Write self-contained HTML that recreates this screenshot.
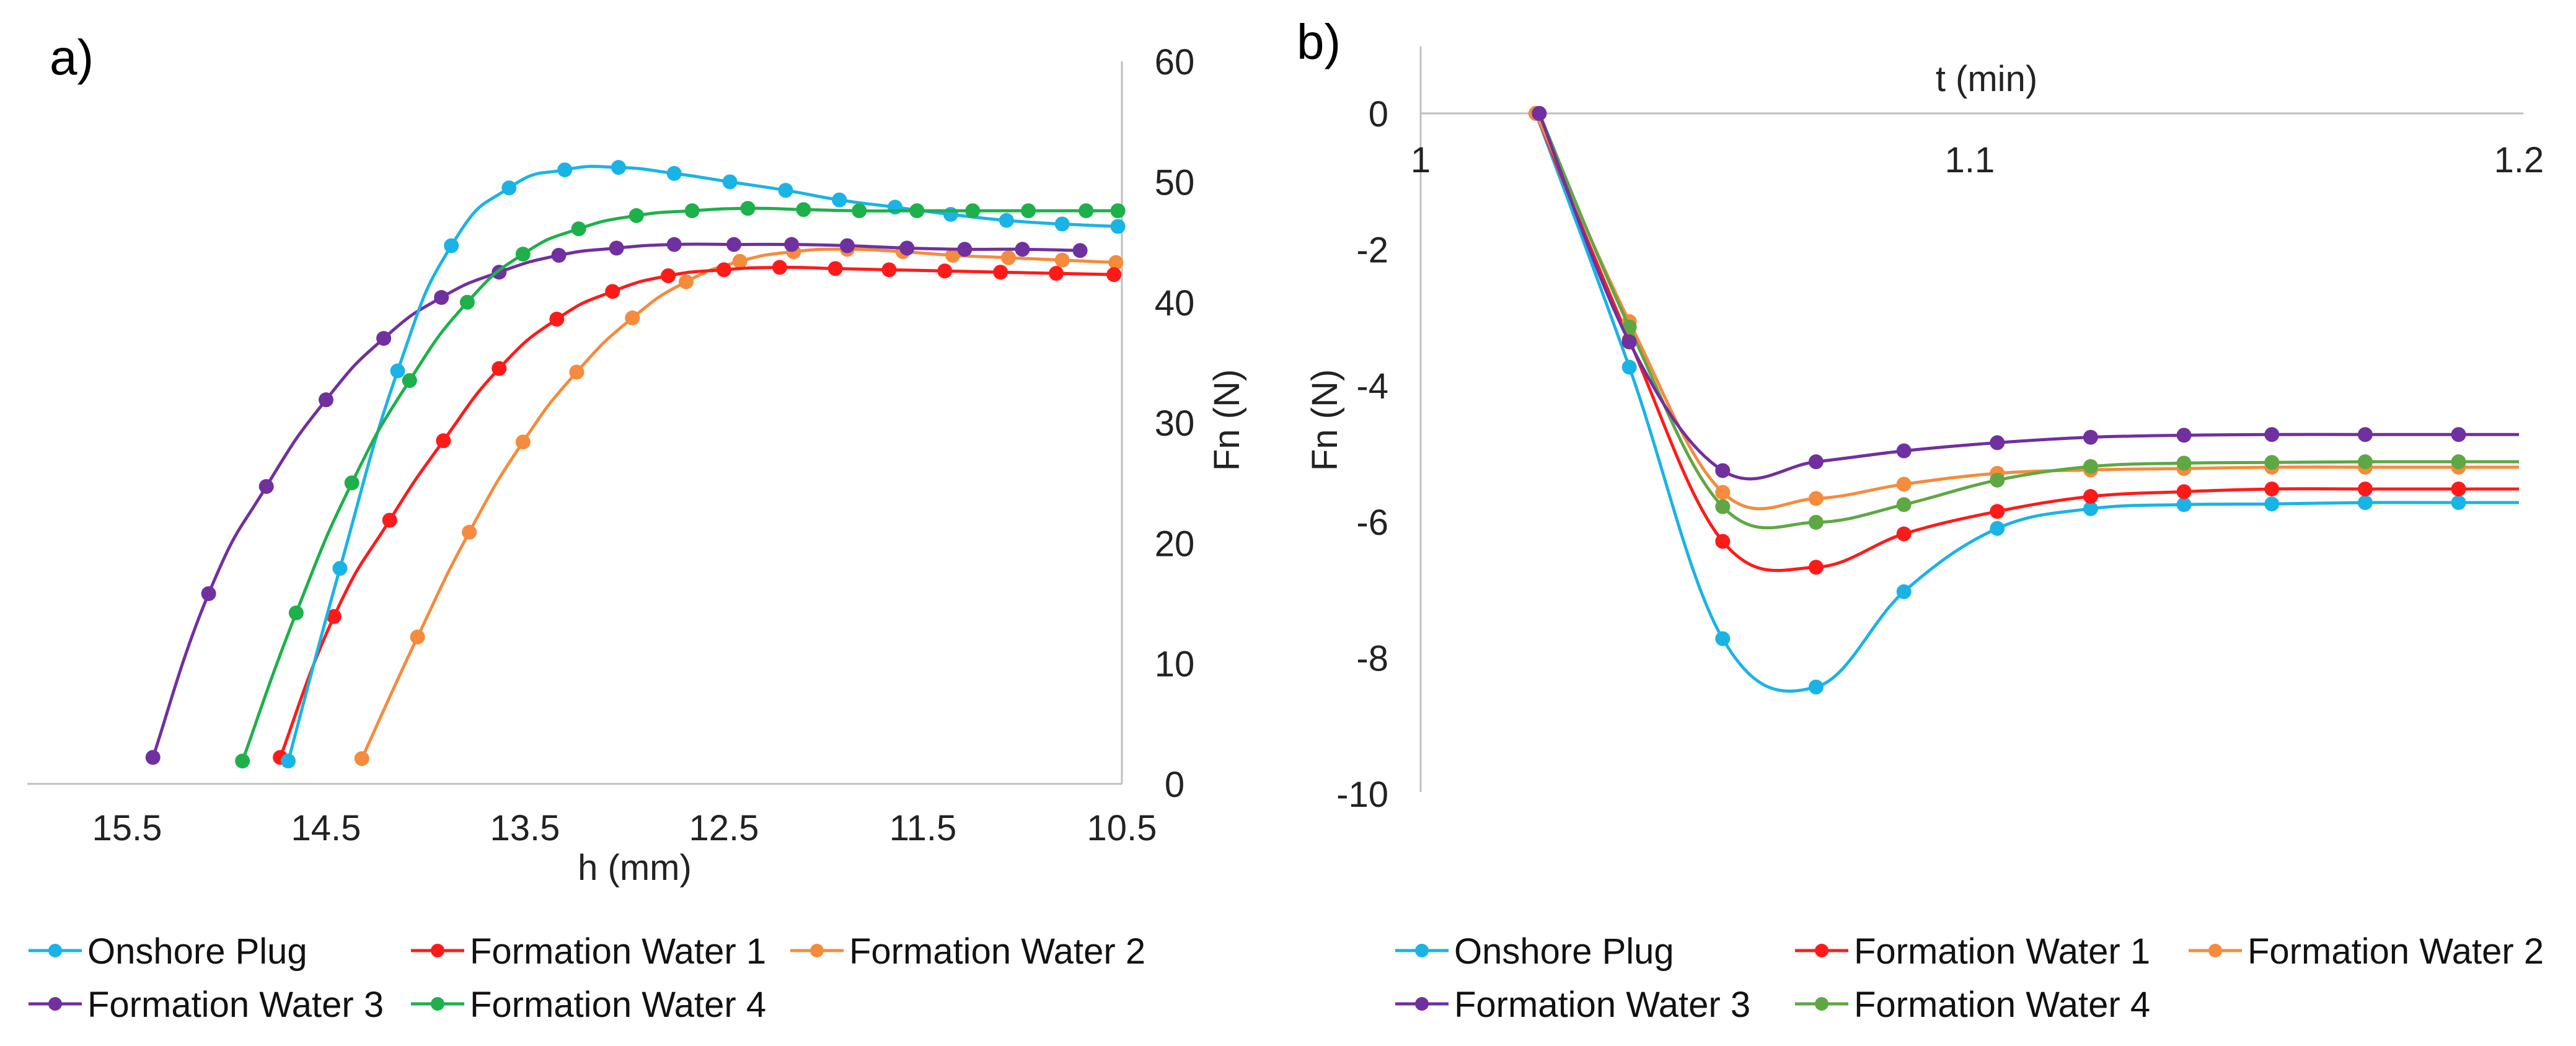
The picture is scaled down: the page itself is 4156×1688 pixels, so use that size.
<!DOCTYPE html>
<html><head><meta charset="utf-8"><style>
html,body{margin:0;padding:0;background:#fff;}
svg{display:block;font-family:"Liberation Sans",sans-serif;}
</style></head><body>
<svg id="fig" width="4156" height="1688" viewBox="0 0 4156 1688" xmlns="http://www.w3.org/2000/svg">
<text x="80" y="120" font-size="80">a)</text>
<text x="2092" y="95" font-size="80">b)</text>
<g id="chartA"></g>
<g id="chartB"></g>
<g id="legendA"></g>
<g id="legendB"></g>
</svg>
<script>
// ---------- Chart A data ----------
const seriesNames = ["Onshore Plug","Formation Water 1","Formation Water 2","Formation Water 3","Formation Water 4"];
const colorsA = ["#1AB3E6","#FF1A1A","#F58B3C","#7030A0","#1EB04A"];
const colorsB = ["#1AB3E6","#FF1A1A","#F58B3C","#7030A0","#5EA843"];
const aXTicks = [15.5,14.5,13.5,12.5,11.5,10.5];
const aYTicks = [0,10,20,30,40,50,60];
const aPlugH = [14.69,14.43,14.14,13.87,13.58,13.30,13.03,12.75,12.47,12.19,11.92,11.64,11.36,11.08,10.80,10.52];
const aPlugF = [1.9,17.9,34.3,44.7,49.5,51.0,51.2,50.7,50.0,49.3,48.5,47.9,47.3,46.8,46.5,46.3];
const aFw1H = [14.73,14.46,14.18,13.91,13.63,13.34,13.06,12.78,12.50,12.22,11.94,11.67,11.39,11.11,10.83,10.54];
const aFw1F = [2.2,13.9,21.9,28.5,34.5,38.6,40.9,42.2,42.7,42.9,42.8,42.7,42.6,42.5,42.4,42.3];
const aFw2H = [14.32,14.04,13.78,13.51,13.24,12.96,12.69,12.42,12.15,11.88,11.60,11.35,11.07,10.80,10.53];
const aFw2F = [2.1,12.2,20.9,28.4,34.2,38.7,41.7,43.4,44.2,44.4,44.2,43.9,43.7,43.5,43.3];
const aFw3H = [15.37,15.09,14.80,14.50,14.21,13.92,13.63,13.33,13.04,12.75,12.45,12.16,11.88,11.58,11.29,11.00,10.71];
const aFw3F = [2.2,15.8,24.7,31.9,37.0,40.4,42.5,43.9,44.5,44.8,44.8,44.8,44.7,44.5,44.4,44.4,44.3];
const aFw4H = [14.92,14.65,14.37,14.08,13.79,13.51,13.23,12.94,12.66,12.38,12.10,11.82,11.53,11.25,10.97,10.68,10.52];
const aFw4F = [1.9,14.2,25.0,33.5,40.0,44.0,46.1,47.2,47.6,47.8,47.7,47.6,47.6,47.6,47.6,47.6,47.6];

// ---------- Chart B data ----------
const bXTicks = [1,1.1,1.2];
const bYTicks = [0,-2,-4,-6,-8,-10];
const bTime = [1.021,1.038,1.055,1.072,1.088,1.105,1.122,1.139,1.155,1.172,1.189];
const bPlug = [0,-3.73,-7.72,-8.43,-7.03,-6.10,-5.81,-5.75,-5.74,-5.72,-5.72];
const bFw1 = [0,-3.33,-6.29,-6.67,-6.18,-5.85,-5.63,-5.56,-5.52,-5.52,-5.52];
const bFw2 = [0,-3.06,-5.57,-5.66,-5.45,-5.29,-5.24,-5.22,-5.20,-5.20,-5.20];
const bFw3 = [0,-3.36,-5.25,-5.12,-4.96,-4.84,-4.76,-4.73,-4.72,-4.72,-4.72];
const bFw4 = [0,-3.14,-5.78,-6.01,-5.75,-5.39,-5.19,-5.14,-5.13,-5.12,-5.12];

const NS="http://www.w3.org/2000/svg";
function mk(tag,attrs,parent){const e=document.createElementNS(NS,tag);for(const k in attrs)e.setAttribute(k,attrs[k]);parent.appendChild(e);return e;}

// Axis functions A
const ax = h => 1810 - (h-10.5)*321;
const ay = f => 1265 - f*19.43;
// Axis functions B
const bx = t => 2292 + (t-1)*8860;
const by = f => 183 - f*109.8;

const gA=document.getElementById('chartA');
let l=mk('line',{x1:44,y1:1265,x2:1810,y2:1265,stroke:'#bfbfbf','stroke-width':3},gA);


l=mk('line',{x1:1810,y1:99,x2:1810,y2:1265,stroke:'#bfbfbf','stroke-width':3},gA);


aXTicks.forEach(v=>{const t=mk('text',{x:ax(v),y:1356,'font-size':58,'text-anchor':'middle',fill:'#222'},gA);t.textContent=v.toFixed(1);

});
aYTicks.forEach(v=>{const t=mk('text',{x:1895,y:ay(v)+21,'font-size':58,'text-anchor':'middle',fill:'#222'},gA);t.textContent=v;

});
let tt=mk('text',{x:1024,y:1420,'font-size':58,'text-anchor':'middle',fill:'#222'},gA);tt.textContent='h (mm)';


tt=mk('text',{x:0,y:0,'font-size':58,'text-anchor':'middle',fill:'#222',transform:'translate(1999,678) rotate(-90)'},gA);tt.textContent='Fn (N)';



const aSeries=[[aPlugH,aPlugF],[aFw1H,aFw1F],[aFw2H,aFw2F],[aFw3H,aFw3F],[aFw4H,aFw4F]];
const drawOrderA=[2,1,3,0,4];
drawOrderA.forEach(i=>{
  const [H,F]=aSeries[i];
  const pts=H.map((h,j)=>[ax(h),ay(F[j])]);
  const g=mk('g',{},gA);
  
  
  mk('path',{d:smooth(pts,0.25),fill:'none',stroke:colorsA[i],'stroke-width':5},g);
  pts.forEach(p=>{const c=mk('circle',{cx:p[0],cy:p[1],r:12,fill:colorsA[i]},g);
  
  });
});

function smooth(pts,k){
  let d='M'+pts[0][0]+','+pts[0][1];
  for(let i=0;i<pts.length-1;i++){
    const p0=pts[Math.max(0,i-1)],p1=pts[i],p2=pts[i+1],p3=pts[Math.min(pts.length-1,i+2)];
    const c1x=p1[0]+(p2[0]-p0[0])*k,c1y=p1[1]+(p2[1]-p0[1])*k;
    const c2x=p2[0]-(p3[0]-p1[0])*k,c2y=p2[1]-(p3[1]-p1[1])*k;
    d+=' C'+c1x+','+c1y+' '+c2x+','+c2y+' '+p2[0]+','+p2[1];
  }
  return d;
}

// Chart B
const gB=document.getElementById('chartB');
l=mk('line',{x1:2292,y1:183,x2:4071,y2:183,stroke:'#bfbfbf','stroke-width':3},gB);


l=mk('line',{x1:2292,y1:75,x2:2292,y2:1278,stroke:'#bfbfbf','stroke-width':3},gB);


bXTicks.forEach(v=>{const t=mk('text',{x:bx(v),y:278,'font-size':58,'text-anchor':'middle',fill:'#222'},gB);t.textContent=String(v);

});
bYTicks.forEach(v=>{const t=mk('text',{x:2240,y:by(v)+21,'font-size':58,'text-anchor':'end',fill:'#222'},gB);t.textContent=String(v);

});
tt=mk('text',{x:3205,y:147,'font-size':58,'text-anchor':'middle',fill:'#222'},gB);tt.textContent='t (min)';


tt=mk('text',{x:0,y:0,'font-size':58,'text-anchor':'middle',fill:'#222',transform:'translate(2157,678) rotate(-90)'},gB);tt.textContent='Fn (N)';



const bSeries=[bPlug,bFw1,bFw2,bFw3,bFw4];
const drawOrderB=[0,1,2,4,3];
drawOrderB.forEach(i=>{
  const F=bSeries[i];
  const off=(i>=3?0.0006:0);
  const pts=bTime.map((t,j)=>[bx(t+(j==0?off:0)),by(F[j])]);
  const g=mk('g',{},gB);
  
  
  const last=pts[pts.length-1];
  mk('path',{d:smooth(pts,0.18)+' L'+bx(1.2)+','+last[1],fill:'none',stroke:colorsB[i],'stroke-width':5},g);
  pts.forEach(p=>{const c=mk('circle',{cx:p[0],cy:p[1],r:12,fill:colorsB[i]},g);
  
  });
});

// Legends
function legend(gid,pos,colors){
  const g=document.getElementById(gid);
  pos.forEach((p,i)=>{
    const e=mk('g',{},g);
    
    
    mk('line',{x1:p[0],y1:p[1],x2:p[0]+86,y2:p[1],stroke:colors[i],'stroke-width':5},e);
    mk('circle',{cx:p[0]+43,cy:p[1],r:11,fill:colors[i]},e);
    const t=mk('text',{x:p[0]+95,y:p[1]+21,'font-size':58,fill:'#111'},e);t.textContent=seriesNames[i];
  });
}
legend('legendA',[[46,1534],[663,1534],[1275,1534],[46,1620],[663,1620]],colorsA);
legend('legendB',[[2251,1534],[2896,1534],[3531,1534],[2251,1620],[2896,1620]],colorsB);
</script>
</body></html>
